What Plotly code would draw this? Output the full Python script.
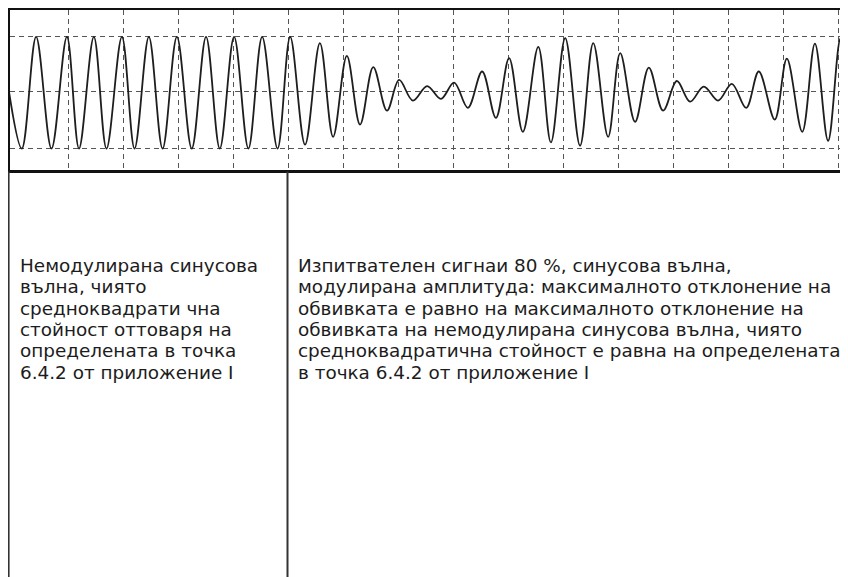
import plotly.graph_objects as go

# ---- waveform extrema ----
# time in grid divisions (one dashed division = 1), amplitude relative to the unmodulated peak
t_unmod = [-0.07, 0.16, 0.42, 0.70, 0.98, 1.20, 1.47, 1.70, 1.98, 2.21, 2.47,
           2.72, 2.98, 3.25, 3.51, 3.76, 4.02, 4.28, 4.53, 4.81, 5.04]
v_unmod = [0.0, -1.0, 1.0, -1.0, 1.0, -1.0, 1.0, -1.0, 1.0, -1.0, 1.0,
           -1.0, 1.0, -1.0, 1.0, -1.0, 1.0, -1.0, 1.0, -1.0, 1.0]

t_mod = [5.31, 5.58, 5.82, 6.07, 6.31, 6.55, 6.80, 7.02, 7.27, 7.53,
         7.78, 8.02, 8.27, 8.53, 8.78, 9.02, 9.27, 9.55, 9.78, 10.04,
         10.31, 10.55, 10.82, 11.04, 11.31, 11.56, 11.82, 12.07, 12.31, 12.56,
         12.82, 13.07, 13.33, 13.56, 13.85, 14.07, 14.35, 14.58, 14.82, 15.05, 15.31]
v_mod = [-0.93, 0.89, -0.79, 0.66, -0.57, 0.46, -0.32, 0.23, -0.14, 0.12,
         -0.11, 0.18, -0.27, 0.38, -0.45, 0.62, -0.70, 0.82, -0.89, 0.98,
         -0.95, 0.89, -0.79, 0.71, -0.52, 0.45, -0.32, 0.21, -0.16, 0.11,
         -0.14, 0.16, -0.27, 0.38, -0.48, 0.61, -0.70, 0.88, -0.86, 0.98, -0.93]

# grid positions
x_grid = list(range(1, 17))
y_grid = [-1.0, 0.03, 1.0]

# ---- texts ----
left_lines = [
    "Немодулирана синусова",
    "вълна, чиято",
    "средноквадрати чна",
    "стойност оттоваря на",
    "определената в точка",
    "6.4.2 от приложение I",
]
right_lines = [
    "Изпитвателен сигнаи 80 %, синусова вълна,",
    "модулирана амплитуда: максималното отклонение на",
    "обвивката е равно на максималното отклонение на",
    "обвивката на немодулирана синусова вълна, чиято",
    "средноквадратична стойност е равна на определената",
    "в точка 6.4.2 от приложение I",
]

W, H = 848, 577
OFF = 8                 # page offset of the figure inside the browser window
L, T, B = 2, 2, 414.5
plot_h = H - T - B
plot_w = W - L

t_all = t_unmod + t_mod
v_all = v_unmod + v_mod

fig = go.Figure()
fig.add_trace(go.Scatter(
    x=t_all, y=v_all, mode="lines",
    line=dict(color="#1e1e1e", width=1.8, shape="spline", smoothing=1.0),
    hoverinfo="skip", showlegend=False,
))

fig.update_layout(
    width=W, height=H,
    margin=dict(l=L, r=0, t=T, b=B, pad=0),
    paper_bgcolor="white", plot_bgcolor="white",
    showlegend=False,
    xaxis=dict(range=[-0.0545, 15.327], tickvals=x_grid, showticklabels=False,
               ticks="", showgrid=True, gridcolor="#555555", gridwidth=1,
               griddash="5px,4px", zeroline=False,
               showline=True, linecolor="#111111", linewidth=3, mirror=True),
    yaxis=dict(range=[-1.384, 1.482], tickvals=y_grid, showticklabels=False,
               ticks="", showgrid=True, gridcolor="#555555", gridwidth=1,
               griddash="5px,4px", zeroline=False,
               showline=True, linecolor="#111111", linewidth=3, mirror=False),
)

def px_x(p):
    # page pixel -> paper fraction
    return (p - OFF - L) / plot_w

def px_y(p):
    return (H - B - (p - OFF)) / plot_h

# lower separator lines
for xp in (8.6, 287.5):
    fig.add_shape(type="line", xref="paper", yref="paper",
                  x0=px_x(xp), x1=px_x(xp), y0=px_y(172), y1=px_y(H + 20),
                  line=dict(color="#333333", width=2))

FONT = dict(family="DejaVu Sans, Liberation Sans, Arial, sans-serif", size=18.4, color="#1c1c1c")
row_y = [266, 287.5, 309, 330.5, 352, 373.5]
for i, txt in enumerate(left_lines):
    fig.add_annotation(text=txt, xref="paper", yref="paper",
                       x=px_x(19), y=px_y(row_y[i]), xanchor="left", yanchor="middle",
                       showarrow=False, borderpad=0, font=FONT)
for i, txt in enumerate(right_lines):
    fig.add_annotation(text=txt, xref="paper", yref="paper",
                       x=px_x(297), y=px_y(row_y[i]), xanchor="left", yanchor="middle",
                       showarrow=False, borderpad=0, font=FONT)

fig.write_html("out.html")
